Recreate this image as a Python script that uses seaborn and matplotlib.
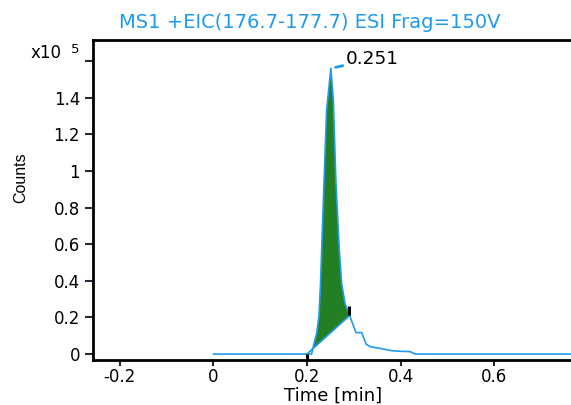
import numpy as np
import pandas as pd
import matplotlib
matplotlib.use("Agg")
import matplotlib.pyplot as plt
import seaborn as sns

# ---- data (counts in units of 1e5) ----
time_min = [0.0, 0.2, 0.21, 0.2134, 0.2207, 0.2255, 0.229, 0.2363, 0.242, 0.251,
            0.2562, 0.2619, 0.269, 0.274, 0.2811, 0.291, 0.3046, 0.3167, 0.326,
            0.3345, 0.3594, 0.3808, 0.3985, 0.42, 0.4305, 0.77]
counts_e5 = [0.0, 0.0, 0.0, 0.04, 0.113, 0.204, 0.386, 0.933, 1.333, 1.561,
             1.388, 0.933, 0.568, 0.386, 0.277, 0.21, 0.117, 0.117, 0.055,
             0.04, 0.029, 0.018, 0.015, 0.013, 0.0, 0.0]

baseline_time = [0.2, 0.291]
baseline_counts = [0.0, 0.21]

marker_time = [0.2, 0.289]
marker_low = [-0.033, 0.213]
marker_high = [0.0, 0.26]

peak_time = 0.251
peak_counts = 1.561

title_text = "MS1 +EIC(176.7-177.7) ESI Frag=150V"
x_ticks = [-0.2, 0.0, 0.2, 0.4, 0.6]
x_ticklabels = ["-0.2", "0", "0.2", "0.4", "0.6"]
y_ticks = [0.0, 0.2, 0.4, 0.6, 0.8, 1.0, 1.2, 1.4, 1.6]
y_ticklabels = ["0", "0.2", "0.4", "0.6", "0.8", "1", "1.2", "1.4", ""]

BLUE = "#1E9BEF"
GREEN = "#237f23"
TICKC = "#1f2d3d"

sns.set_theme(style="white")
plt.rcParams["font.family"] = ["DejaVu Sans"]

W, H = 571, 405
fig = plt.figure(figsize=(W / 100, H / 100), dpi=100)
left_px, bottom_px, top_px = 93.3, 360.0, 40.0
ax = fig.add_axes([left_px / W, (H - bottom_px) / H, 1 - left_px / W,
                   (bottom_px - top_px) / H])

df = pd.DataFrame({"time": time_min, "counts": counts_e5})
t = np.array(time_min)
v = np.array(counts_e5)

# integrated area
m = (t >= baseline_time[0]) & (t <= baseline_time[1])
xf = t[m]
yf = v[m]
yb = np.interp(xf, baseline_time, baseline_counts)
ax.fill_between(xf, yb, yf, where=yf >= yb, interpolate=True,
                color=GREEN, linewidth=0, zorder=1)

sns.lineplot(data=df, x="time", y="counts", ax=ax, color=BLUE, linewidth=1.2,
             estimator=None, sort=False, zorder=3)
ax.plot(baseline_time, baseline_counts, color=BLUE, linewidth=1.2, zorder=3)
ax.vlines(marker_time, marker_low, marker_high, color="black", linewidth=2.2,
          zorder=4)

ax.annotate(f"{peak_time:.3f}", xy=(peak_time, peak_counts),
            xytext=(11, 6.7), textcoords="offset points",
            ha="left", va="center", fontsize=13.3, color="black",
            arrowprops=dict(arrowstyle="-", color=BLUE, lw=2.0,
                            shrinkA=0, shrinkB=3.5))

ax.set_xlim(-0.256, (W - 213.3) / 468.5)
ax.set_ylim(-0.0328, 1.716)
ax.set_xticks(x_ticks)
ax.set_xticklabels(x_ticklabels)
ax.set_yticks(y_ticks)
ax.set_yticklabels(y_ticklabels)

for s in ["left", "bottom", "top"]:
    ax.spines[s].set_visible(True)
    ax.spines[s].set_color("black")
    ax.spines[s].set_linewidth(2.0)
ax.spines["right"].set_visible(False)

ax.tick_params(axis="x", which="both", direction="out", length=4.3, width=1.5,
               color=TICKC, labelsize=12, pad=1.5, bottom=True, labelcolor="black")
ax.tick_params(axis="y", which="both", direction="out", length=6, width=1.5,
               color=TICKC, labelsize=12, pad=3.5, left=True, labelcolor="black")
ax.grid(False)

ax.set_xlabel("Time [min]", fontsize=13, color="black")
ax.xaxis.set_label_coords((333 - left_px) / (W - left_px), -0.082)
ax.set_ylabel("Counts", fontsize=11.5, color="black",
              family=["Liberation Sans", "DejaVu Sans"])
ax.yaxis.set_label_coords((28 - left_px) / (W - left_px), (360 - 178) / 320)

# scale label in place of the top tick label
fig.text(62 / W, 1 - 58 / H, "x10", ha="right", va="baseline", fontsize=12,
         color="black")
fig.text(71 / W, 1 - 53 / H, "5", ha="left", va="baseline", fontsize=9.5,
         color="black")

fig.text(310 / W, 1 - 23 / H, title_text, ha="center", va="center",
         fontsize=14, color=BLUE)

fig.savefig("out.png", dpi=100)
